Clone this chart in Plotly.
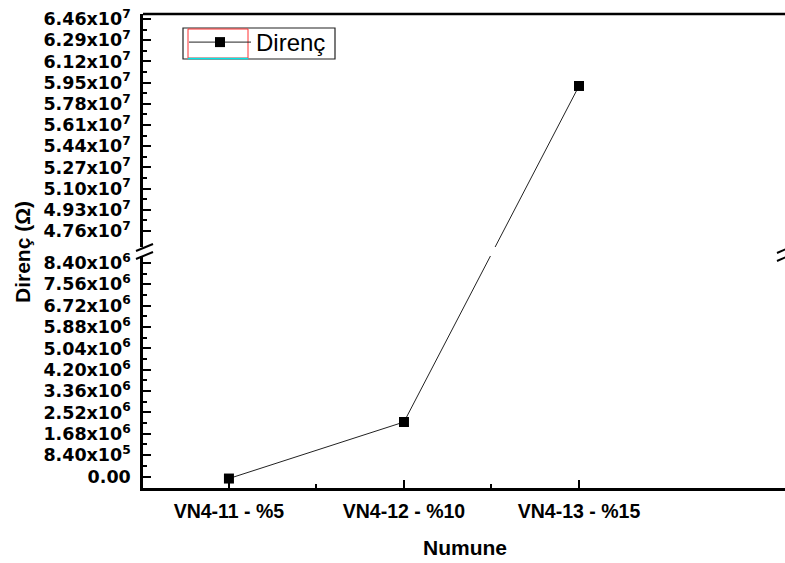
import plotly.graph_objects as go

# ---- data ----
categories = ["VN4-11 - %5", "VN4-12 - %10", "VN4-13 - %15"]
cat_pos = [1, 2, 3]
direnc = [-8.0e4, 2.144e6, 5.923e7]
series_name = "Direnç"

lower_tick_vals = [0, 8.4e5, 1.68e6, 2.52e6, 3.36e6, 4.20e6, 5.04e6, 5.88e6, 6.72e6, 7.56e6, 8.40e6]
lower_tick_text = ["0.00", "8.40x10<sup>5</sup>", "1.68x10<sup>6</sup>", "2.52x10<sup>6</sup>",
                   "3.36x10<sup>6</sup>", "4.20x10<sup>6</sup>", "5.04x10<sup>6</sup>", "5.88x10<sup>6</sup>",
                   "6.72x10<sup>6</sup>", "7.56x10<sup>6</sup>", "8.40x10<sup>6</sup>"]
upper_tick_vals = [4.76e7, 4.93e7, 5.10e7, 5.27e7, 5.44e7, 5.61e7, 5.78e7, 5.95e7, 6.12e7, 6.29e7, 6.46e7]
upper_tick_text = ["4.76x10<sup>7</sup>", "4.93x10<sup>7</sup>", "5.10x10<sup>7</sup>", "5.27x10<sup>7</sup>",
                   "5.44x10<sup>7</sup>", "5.61x10<sup>7</sup>", "5.78x10<sup>7</sup>", "5.95x10<sup>7</sup>",
                   "6.12x10<sup>7</sup>", "6.29x10<sup>7</sup>", "6.46x10<sup>7</sup>"]

x_title = "Numune"
y_title = "Direnç (Ω)"

# ---- layout constants (pixels) ----
W, H = 785, 563
L, R, T, B = 143, 0, 14, 75
PW, PH = W - L - R, H - T - B


def px_x(p):
    return (p - L) / PW


def px_y(p):
    return (H - B - p) / PH


def mids(v):
    return [(a + b) / 2 for a, b in zip(v[:-1], v[1:])]


lower_dom = [0, px_y(256)]
upper_dom = [px_y(247), 1]
lower_rng = [-4.52e5, 8.675e6]
upper_rng = [4.632e7, 6.50e7]


# broken-axis transform: value -> paper fraction, and back into each segment's scale
def to_paper(v):
    if v <= lower_rng[1]:
        d, r = lower_dom, lower_rng
    else:
        d, r = upper_dom, upper_rng
    return d[0] + (v - r[0]) / (r[1] - r[0]) * (d[1] - d[0])


def from_paper(f, d, r):
    return r[0] + (f - d[0]) / (d[1] - d[0]) * (r[1] - r[0])


paper_pos = [to_paper(v) for v in direnc]
y_lower = [from_paper(f, lower_dom, lower_rng) for f in paper_pos]
y_upper = [from_paper(f, upper_dom, upper_rng) for f in paper_pos]

fig = go.Figure()
line_style = dict(color="#222222", width=1)
marker_style = dict(symbol="square", size=10, color="black")

fig.add_trace(go.Scatter(x=cat_pos, y=y_lower, mode="lines+markers", name=series_name,
                         line=line_style, marker=marker_style, xaxis="x", yaxis="y", showlegend=True,
                         customdata=direnc, hovertemplate="%{x}: %{customdata}<extra></extra>"))
fig.add_trace(go.Scatter(x=cat_pos, y=y_upper, mode="lines+markers", name=series_name,
                         line=line_style, marker=marker_style, xaxis="x", yaxis="y2", showlegend=False,
                         customdata=direnc, hovertemplate="%{x}: %{customdata}<extra></extra>"))

ytick_font = dict(family="DejaVu Sans", size=17.5, color="black", weight="bold")
common_y = dict(showline=True, linecolor="black", linewidth=2.5, ticks="inside", ticklen=8,
                tickwidth=2, tickcolor="black", showgrid=False, zeroline=False,
                tickfont=ytick_font, ticklabelstandoff=6)

fig.update_layout(
    width=W, height=H,
    margin=dict(l=L, r=R, t=T, b=B, pad=0),
    paper_bgcolor="white", plot_bgcolor="white",
    font=dict(family="Liberation Sans, Arial", color="black"),
    xaxis=dict(range=[0.509, 4.177], tickmode="array", tickvals=cat_pos, ticktext=categories,
               showline=True, linecolor="black", linewidth=2.5, ticks="inside", ticklen=8,
               tickwidth=2, tickcolor="black", showgrid=False, zeroline=False,
               tickfont=dict(family="Liberation Sans, Arial", size=19.5, color="black", weight="bold"),
               ticklabelstandoff=4,
               minor=dict(tickmode="array", tickvals=mids(cat_pos), ticks="inside", ticklen=4,
                          tickwidth=2, tickcolor="black"),
               anchor="y"),
    yaxis=dict(domain=lower_dom, range=lower_rng, tickmode="array",
               tickvals=lower_tick_vals, ticktext=lower_tick_text,
               minor=dict(tickmode="array", tickvals=mids(lower_tick_vals), ticks="inside",
                          ticklen=4, tickwidth=2, tickcolor="black"),
               anchor="x", **common_y),
    yaxis2=dict(domain=upper_dom, range=upper_rng, tickmode="array",
                tickvals=upper_tick_vals, ticktext=upper_tick_text,
                minor=dict(tickmode="array", tickvals=mids(upper_tick_vals), ticks="inside",
                           ticklen=4, tickwidth=2, tickcolor="black"),
                anchor="x", **common_y),
    legend=dict(x=px_x(184), y=px_y(20), xanchor="left", yanchor="top",
                borderwidth=0, bgcolor="rgba(0,0,0,0)",
                font=dict(family="Liberation Sans, Arial", size=24, color="black"),
                itemwidth=62, tracegroupgap=0),
    showlegend=True,
)

# legend frame (Origin-style, with selection highlight around the sample)
fig.add_shape(type="rect", xref="paper", yref="paper", x0=px_x(183), x1=px_x(335),
              y0=px_y(59), y1=px_y(28), line=dict(color="#222222", width=1.2), layer="below")
fig.add_shape(type="rect", xref="paper", yref="paper", x0=px_x(188), x1=px_x(248),
              y0=px_y(58), y1=px_y(29), line=dict(color="#ff3030", width=1), layer="below")
fig.add_shape(type="line", xref="paper", yref="paper", x0=px_x(188), x1=px_x(248),
              y0=px_y(58.5), y1=px_y(58.5), line=dict(color="#00e5e5", width=1.5))

# axis titles
fig.add_annotation(text=f"<b>{y_title}</b>", xref="paper", yref="paper", x=px_x(22), y=px_y(252),
                   textangle=-90, showarrow=False, xanchor="center", yanchor="middle",
                   font=dict(family="Liberation Sans, Arial", size=21, color="black"))
fig.add_annotation(text=f"<b>{x_title}</b>", xref="paper", yref="paper", x=px_x(465), y=px_y(547),
                   showarrow=False, xanchor="center", yanchor="middle",
                   font=dict(family="Liberation Sans, Arial", size=21, color="black"))

# top border
fig.add_shape(type="line", xref="paper", yref="paper", x0=0, x1=1, y0=1, y1=1,
              line=dict(color="black", width=2.5))
# axis break marks
for (xa, ya, xb, yb) in [(136, 251, 153, 244), (136, 259, 153, 252),
                         (777, 253, 793, 246), (777, 261, 793, 254)]:
    fig.add_shape(type="line", xref="paper", yref="paper", x0=px_x(xa), y0=px_y(ya),
                  x1=px_x(xb), y1=px_y(yb), line=dict(color="black", width=2))

fig.write_html("out.html")
